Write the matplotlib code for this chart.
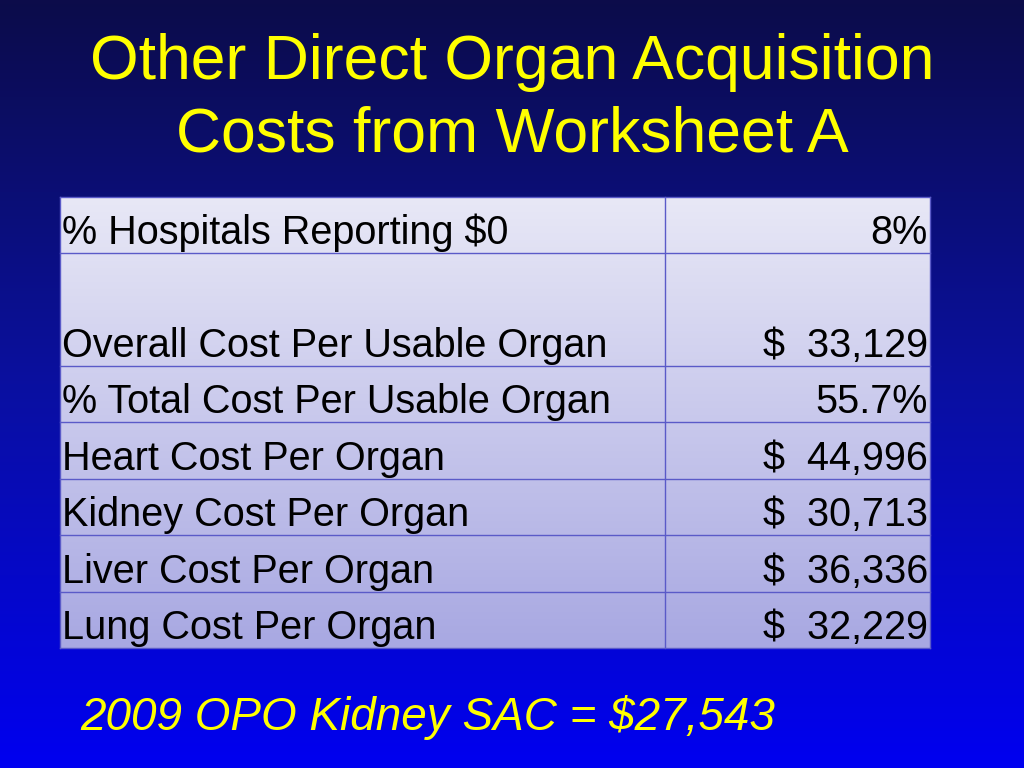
import numpy as np
import matplotlib
matplotlib.use("Agg")
import matplotlib.pyplot as plt
from matplotlib.colors import LinearSegmentedColormap

title_lines = ["Other Direct Organ Acquisition", "Costs from Worksheet A"]
row_labels = ["% Hospitals Reporting $0", "Overall Cost Per Usable Organ",
              "% Total Cost Per Usable Organ", "Heart Cost Per Organ",
              "Kidney Cost Per Organ", "Liver Cost Per Organ", "Lung Cost Per Organ"]
row_values = ["8%", "$  33,129", "55.7%", "$  44,996", "$  30,713", "$  36,336", "$  32,229"]
row_edges = [197, 253, 366, 422, 479, 535, 592, 648]
footer = "2009 OPO Kidney SAC = $27,543"

fig = plt.figure(figsize=(10.24, 7.68), dpi=100)
ax = fig.add_axes([0, 0, 1, 1])
ax.set_xlim(0, 1024); ax.set_ylim(768, 0); ax.axis("off")

bg = LinearSegmentedColormap.from_list("bg", ["#0c0c4a", "#0a10a0", "#0000f0"])
ax.imshow(np.linspace(0, 1, 256)[:, None], cmap=bg, extent=[0, 1024, 768, 0], aspect="auto", zorder=0)

tx0, tx1, tsplit = 60, 930, 665
tb = LinearSegmentedColormap.from_list("tb", ["#e8e8f6", "#a8a8e2"])
ax.imshow(np.linspace(0, 1, 256)[:, None], cmap=tb, extent=[tx0, tx1, row_edges[-1], row_edges[0]], aspect="auto", zorder=1)
for y in row_edges:
    ax.plot([tx0, tx1], [y, y], color="#5a5ac8", lw=1, zorder=2)
for x in (tx0, tsplit, tx1):
    ax.plot([x, x], [row_edges[0], row_edges[-1]], color="#5a5ac8", lw=1, zorder=2)

font = "Liberation Sans"
ax.text(512, 62, title_lines[0], ha="center", va="center", color="#ffff00", fontsize=45, family=font)
ax.text(512, 135, title_lines[1], ha="center", va="center", color="#ffff00", fontsize=45, family=font)

for i, (lab, val) in enumerate(zip(row_labels, row_values)):
    yb = row_edges[i + 1] - 9
    ax.text(tx0 + 2, yb, lab, ha="left", va="baseline", fontsize=28.5, family=font, color="black", zorder=3)
    ax.text(tx1 - 2, yb, val, ha="right", va="baseline", fontsize=28.5, family=font, color="black", zorder=3)

ax.text(80, 718, footer, ha="left", va="center", color="#ffff00", fontsize=33, style="italic", family=font)

fig.savefig("out.png", dpi=100)
